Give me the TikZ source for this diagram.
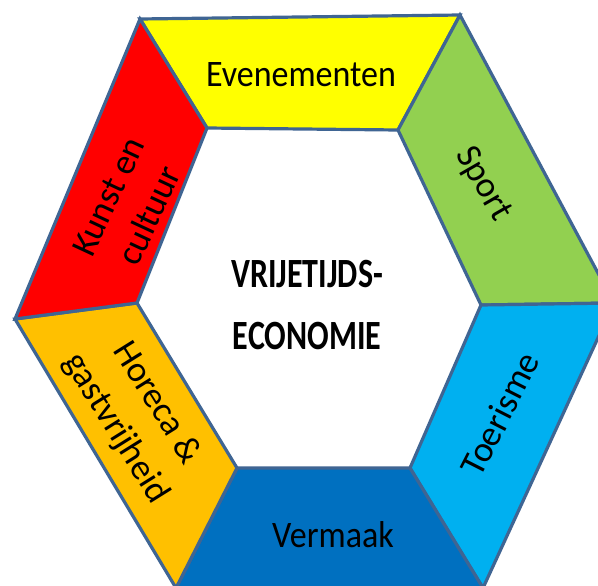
\documentclass[tikz,border=0pt]{standalone}
\usepackage{fontspec}
\setmainfont{Carlito}
\definecolor{cYellow}{HTML}{FFFF00}
\definecolor{cGreen}{HTML}{92D050}
\definecolor{cLBlue}{HTML}{00B0F0}
\definecolor{cBlue}{HTML}{0070C0}
\definecolor{cOrange}{HTML}{FFC000}
\definecolor{cRed}{HTML}{FF0000}
\definecolor{cEdge}{HTML}{3F6593}
\begin{document}
\begin{tikzpicture}[x=1pt,y=-1pt,
  seg/.style={draw=cEdge,line width=3.2pt,line join=miter},
  hlabel/.style={inner sep=0pt,font=\fontsize{34}{40}\selectfont,yscale=1.1},
  rlabel/.style={inner sep=0pt,align=center,font=\fontsize{36}{45}\selectfont},
  clabel/.style={inner sep=0pt,align=center,font=\bfseries\fontsize{32}{47}\selectfont,yscale=1.3}]
\useasboundingbox (0,0) rectangle (598,586);
\fill[white] (0,0) rectangle (598,586);
% outer vertices
\coordinate (OTL) at (140,19);
\coordinate (OTR) at (460,15);
\coordinate (OR) at (614,303);
\coordinate (OBR) at (483,588);
\coordinate (OBL) at (176,588);
\coordinate (OL) at (15,319);
% inner vertices
\coordinate (ITL) at (207,128);
\coordinate (ITR) at (398,130);
\coordinate (IR) at (481,305);
\coordinate (IBR) at (410,468);
\coordinate (IBL) at (237,468);
\coordinate (IL) at (137,303);
% segments
\filldraw[seg,fill=cYellow] (OTL) -- (OTR) -- (ITR) -- (ITL) -- cycle;
\filldraw[seg,fill=cGreen] (OTR) -- (OR) -- (IR) -- (ITR) -- cycle;
\filldraw[seg,fill=cLBlue] (OR) -- (OBR) -- (IBR) -- (IR) -- cycle;
\filldraw[seg,fill=cBlue] (OBR) -- (OBL) -- (IBL) -- (IBR) -- cycle;
\filldraw[seg,fill=cOrange] (OBL) -- (OL) -- (IL) -- (IBL) -- cycle;
\filldraw[seg,fill=cRed] (OL) -- (OTL) -- (ITL) -- (IL) -- cycle;
% labels
\node[hlabel] (even) at (301,75) {Evenementen};
\node[hlabel] (verm) at (333,535) {Vermaak};
\node[rlabel,rotate=-60] (sport) at (483,184) {Sport};
\node[rlabel,rotate=63] (toer) at (500,414) {Toerisme};
\node[rlabel,rotate=65] (kunst) at (129,206) {Kunst en\\cultuur};
\node[rlabel,rotate=-58,font=\fontsize{36}{48}\selectfont] (horeca) at (136,416) {Horeca \&\\gastvrijheid};
\node[clabel] (centre) at (307,305) {VRIJETIJDS-\\ECONOMIE};
\end{tikzpicture}
\end{document}
